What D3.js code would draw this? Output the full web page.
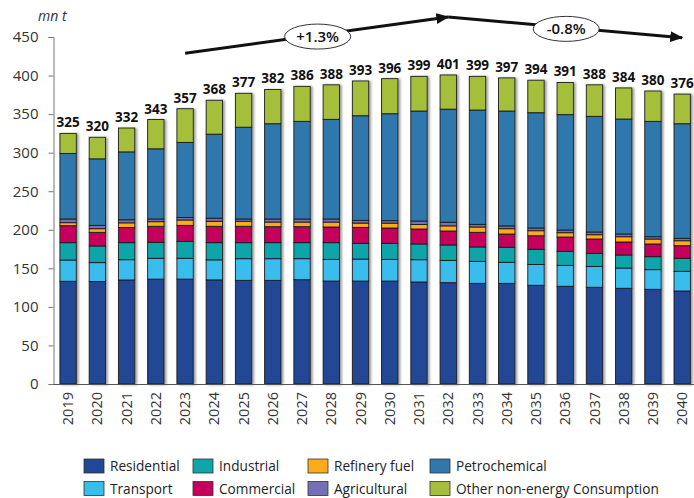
<!DOCTYPE html>
<html>
<head>
<meta charset="utf-8">
<script src="https://cdn.jsdelivr.net/npm/d3@7"></script>
<style>
  body { margin: 0; background: #fff; }
  text { font-family: "Open Sans", "DejaVu Sans", sans-serif; }
</style>
</head>
<body>
<div id="chart"></div>
<script>
// years and totals shown above the bars
var years = ["2019","2020","2021","2022","2023","2024","2025","2026","2027","2028","2029",
  "2030","2031","2032","2033","2034","2035","2036","2037","2038","2039","2040"]
var totals = [325,320,332,343,357,368,377,382,386,388,393,396,399,401,399,397,394,391,388,384,380,376]

var residential = [133.2,133,134.9,136,136,135,134.4,134.4,135.3,133.5,133.5,133.5,132.3,131.4,130.5,130.5,128,126.7,125.4,124.1,122.8,120.6]
var transport = [27.6,24.4,26.3,27,27,26,28.1,28.1,27.2,28.1,28.5,28.1,28.9,28.9,28.5,27.3,27,27.1,27.1,26.3,25.5,25.5]
var industrial = [22.5,21.6,22.1,20.7,22,22.3,20.8,20.8,20.8,21.7,20.4,20.8,20.4,20,18.7,19.5,19.7,18.2,16.9,16.9,16.8,16.9]
var commercial = [22,17.7,19.7,20.8,20.7,21.2,21.2,20.7,20.7,20.3,20.7,19.9,19.4,18.1,19,17.2,17.6,18.6,18.6,16.9,16.5,16.4]
var refinery = [3.9,4.7,6,6,7,6.5,6.5,6,6,6.4,5.6,6.3,5.8,6.7,6.9,6.9,6.5,5.6,5.6,6.8,6.4,6.4]
var agricultural = [4.8,4.3,4,3.5,3.3,4,3,4,4,4,3.5,3.2,4.6,4.7,3.4,3.6,3.5,3.5,3.5,3.5,3,3.1]
var petrochemical = [85,86.3,88,91,97.3,109,119,123.5,126.6,129.2,135.7,138.7,142.6,146.6,148.3,149,149.5,149.6,150,149.1,149.6,148.6]
var other = [26,28,31,38,43.7,44,44,44.5,45.4,44.8,45.1,45.5,45,44.4,43.7,43,42.2,41.7,40.9,40.4,39.4,38.5]

var seriesNames = ["Residential","Transport","Industrial","Commercial","Refinery fuel","Agricultural","Petrochemical","Other non-energy Consumption"]
var seriesValues = [residential, transport, industrial, commercial, refinery, agricultural, petrochemical, other]
var colors = ["#214795","#38bdec","#0fa5aa","#c4005c","#fdab1c","#7470b7","#2f78ad","#a5bf3a"]
var yTicks = [0,50,100,150,200,250,300,350,400,450]

// growth annotations (from year, to year, levels in mn t)
var growth = [
  { from: "2023", to: "2032", v0: 429, v1: 476, label: "+1.3%" },
  { from: "2032", to: "2040", v0: 476, v1: 449, label: "-0.8%" }
]

var width = 694, height = 498

var svg = d3.select("#chart").append("svg")
  .attr("width", width)
  .attr("height", height)

var defs = svg.append("defs")
defs.append("filter").attr("id", "shadow")
  .attr("x", "-20%").attr("y", "-5%").attr("width", "150%").attr("height", "110%")
  .append("feDropShadow")
  .attr("dx", 2).attr("dy", 0.5).attr("stdDeviation", 0.8)
  .attr("flood-color", "#777").attr("flood-opacity", 0.7)
defs.append("marker").attr("id", "arrow")
  .attr("viewBox", "0 0 12 10")
  .attr("refX", 11).attr("refY", 5)
  .attr("markerUnits", "userSpaceOnUse")
  .attr("markerWidth", 13).attr("markerHeight", 11)
  .attr("orient", "auto")
  .append("path").attr("d", "M0,0L12,5L0,10Z").attr("fill", "#111")

var x = d3.scaleBand()
  .domain(years)
  .range([53.5, 696.8])
  .paddingInner(0.44)
  .paddingOuter(0.22)

var y = d3.scaleLinear().domain([0, 450]).range([384, 37])

var table = years.map(function(yr, i) {
  var row = { year: yr, total: totals[i] }
  seriesNames.forEach(function(n, k) { row[n] = seriesValues[k][i] })
  return row
})

var stack = d3.stack().keys(seriesNames)(table)

/* ------- BARS -------*/
var bars = svg.append("g").attr("filter", "url(#shadow)")
bars.selectAll("g")
  .data(stack)
  .enter().append("g")
  .attr("fill", function(d, i) { return colors[i] })
  .selectAll("rect")
  .data(function(d) { return d })
  .enter().append("rect")
  .attr("x", function(d) { return x(d.data.year) })
  .attr("y", function(d) { return y(d[1]) })
  .attr("width", x.bandwidth())
  .attr("height", function(d) { return y(d[0]) - y(d[1]) })
  .attr("stroke", "#1a1a1a")
  .attr("stroke-width", 0.9)

/* ------- AXES -------*/
var yAxis = svg.append("g")
  .attr("transform", "translate(53.5,0)")
  .call(d3.axisLeft(y).tickValues(yTicks).tickSize(5).tickPadding(10))
yAxis.select(".domain").attr("stroke", "#777")
yAxis.selectAll(".tick line").attr("stroke", "#777")
yAxis.selectAll("text")
  .attr("fill", "#333")
  .style("font-size", "15px")

var xAxis = svg.append("g")
  .attr("transform", "translate(0,384)")
  .call(d3.axisBottom(x).tickSize(0).tickPadding(8))
xAxis.select(".domain").attr("stroke", "#555").attr("d", "M53.5,0.5H694")
xAxis.selectAll("text")
  .attr("fill", "#333")
  .style("font-size", "14.5px")
  .attr("transform", "rotate(-90)")
  .attr("text-anchor", "end")
  .attr("x", -8)
  .attr("y", 0)
  .attr("dy", "0.35em")

svg.append("text")
  .attr("x", 38).attr("y", 21)
  .attr("font-style", "italic")
  .attr("fill", "#333")
  .style("font-size", "14px")
  .text("mn t")

/* ------- TOTAL LABELS -------*/
svg.append("g").selectAll("text")
  .data(table)
  .enter().append("text")
  .attr("x", function(d) { return x(d.year) + x.bandwidth() / 2 })
  .attr("y", function(d) { return y(d.total) - 6 })
  .attr("text-anchor", "middle")
  .attr("font-weight", "bold")
  .attr("fill", "#111")
  .style("font-size", "13.5px")
  .text(function(d) { return d.total })

/* ------- GROWTH ARROWS -------*/
var arrows = svg.append("g")
growth.forEach(function(g) {
  var x0 = x(g.from) + x.bandwidth() / 2, x1 = x(g.to) + x.bandwidth() / 2
  var y0 = y(g.v0), y1 = y(g.v1)
  arrows.append("line")
    .attr("x1", x0).attr("y1", y0).attr("x2", x1).attr("y2", y1)
    .attr("stroke", "#111").attr("stroke-width", 3)
    .attr("marker-end", "url(#arrow)")
  var cx = (x0 + x1) / 2 + 1, cy = (y0 + y1) / 2 + 1.5
  arrows.append("ellipse")
    .attr("cx", cx).attr("cy", cy).attr("rx", 33).attr("ry", 12.5)
    .attr("fill", "#fff").attr("stroke", "#333").attr("stroke-width", 1)
  arrows.append("text")
    .attr("x", cx).attr("y", cy).attr("dy", "0.36em")
    .attr("text-anchor", "middle")
    .attr("font-weight", 600)
    .attr("fill", "#111")
    .style("font-size", "15px")
    .text(g.label)
})

/* ------- LEGEND -------*/
var legend = svg.append("g")
var colX = [84, 193, 308, 430]
var squeeze = 0.91
seriesNames.forEach(function(n, i) {
  var col = Math.floor(i / 2), row = i % 2
  var item = legend.append("g")
    .attr("transform", "translate(" + colX[col] + "," + (459 + row * 22.5) + ")")
  item.append("rect")
    .attr("width", 20).attr("height", 14)
    .attr("fill", colors[i]).attr("stroke", "#333").attr("stroke-width", 0.8)
  item.append("text")
    .attr("transform", "translate(26,0) scale(" + squeeze + ",1)")
    .attr("y", 7).attr("dy", "0.35em")
    .attr("fill", "#222")
    .style("font-size", "15px")
    .text(n)
})
</script>
</body>
</html>
